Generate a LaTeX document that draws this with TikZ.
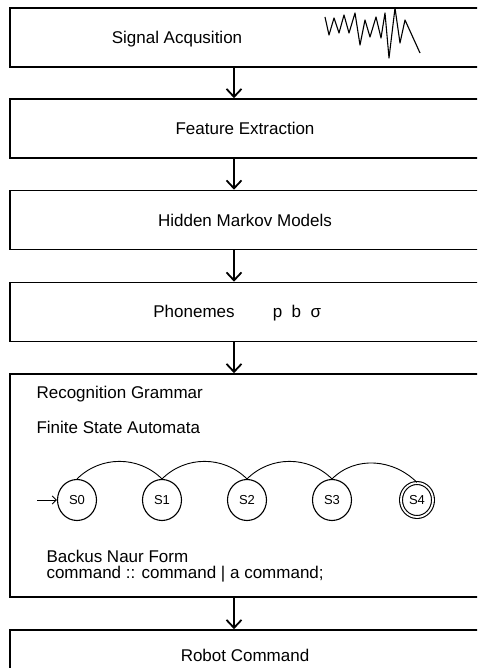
\documentclass[tikz,border=0pt]{standalone}
\usepackage{fontspec}
\setmainfont{Liberation Sans}
\usetikzlibrary{arrows.meta,shapes}

\begin{document}
\begin{tikzpicture}[x=1pt, y=-1pt, font=\fontsize{17}{16}\selectfont, node distance={85pt},
	stage/.style = {draw, line width=1.6pt, minimum width=470pt, minimum height=59pt, inner sep=0pt},
	flow/.style = {line width=1.8pt, -{Straight Barb[length=8pt,width=15pt]}},
	state/.style = {draw, ellipse, line width=1.1pt, minimum width=39pt, minimum height=41pt, inner sep=0pt, font=\fontsize{13}{13}\selectfont}]
	\useasboundingbox (0,0) rectangle (477,668);
	\clip (0,0) rectangle (477,668);
	\node[stage] (signal) at (245,37.5) {};
	\node[anchor=base] (sigtext) at (177,44) {Signal Acqusition};
	\draw[line width=1.1pt, line join=round] plot coordinates {(325,17) (329,35) (334,18) (339,33) (344,15) (349,33) (355,13) (360,45) (365,20) (370,37) (376,17) (381,38) (385,13) (389,58) (395,8) (400,43) (405,20) (420,53)};
	\node[stage] (feature) at (245,128.5) {Feature Extraction};
	\draw[flow] ([xshift=-11pt]signal.south) -- ([xshift=-11pt]feature.north);
	\node[stage] (hmm) at (245,220) {Hidden Markov Models};
	\draw[flow] ([xshift=-11pt]feature.south) -- ([xshift=-11pt]hmm.north);
	\node[stage] (phonemes) at (245,312) {};
	\node[anchor=base] (phontext) at (194,317) {Phonemes};
	\node[anchor=base] (phonsym) at (297,317) {p~~b~~σ};
	\draw[flow] ([xshift=-11pt]hmm.south) -- ([xshift=-11pt]phonemes.north);
	\node[stage, minimum height=223pt] (grammar) at (245,485.5) {};
	\draw[flow] ([xshift=-11pt]phonemes.south) -- ([xshift=-11pt]grammar.north);
	\node[anchor=base west] (rgtext) at (33,398) {Recognition Grammar};
	\node[anchor=base west] (fsatext) at (33,433) {Finite State Automata};
	\node[state] (s0) at (77,500) {S0};
	\node[state, right of=s0] (s1) {S1};
	\node[state, right of=s1] (s2) {S2};
	\node[state, right of=s2] (s3) {S3};
	\node[state, double, double distance=1.8pt, minimum width=32pt, minimum height=34pt, right of=s3] (s4) {S4};
	\coordinate (start) at (37,500);
	\draw[line width=1pt, -{Straight Barb[length=4pt,width=8pt]}] (start) -- (s0);
	\draw[line width=0.9pt] (s0.north) to[out=45, in=135] (s1.north);
	\draw[line width=0.9pt] (s1.north) to[out=45, in=135] (s2.north);
	\draw[line width=0.9pt] (s2.north) to[out=45, in=135] (s3.north);
	\draw[line width=0.9pt] (s3.north) to[out=45, in=135] (s4.north);
	\node[anchor=base west] (bnftext) at (43,562) {Backus Naur Form};
	\node[anchor=base west] (ruletext) at (43,578) {command :: command | a command;};
	\node[stage, minimum height=50pt] (robot) at (245,655) {Robot Command};
	\draw[flow] ([xshift=-11pt]grammar.south) -- ([xshift=-11pt]robot.north);
\end{tikzpicture}
\end{document}
